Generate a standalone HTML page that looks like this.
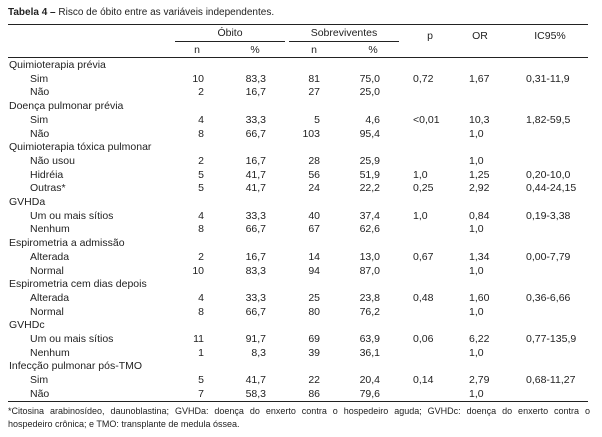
<!DOCTYPE html>
<html><head><meta charset="utf-8"><style>
html,body{margin:0;padding:0;background:#fff;}
body{width:602px;height:437px;position:relative;overflow:hidden;font-family:"Liberation Sans",sans-serif;color:#222;font-size:10.5px;}
.t{position:absolute;white-space:nowrap;line-height:12px;}
.r{text-align:right;}
.c{text-align:center;}
.hl{position:absolute;height:1px;background:#222;}
</style></head><body>
<div class="t" style="left:8px;top:7px;font-size:10px;"><b>Tabela 4 –</b> Risco de óbito entre as variáveis independentes.</div>
<div class="hl" style="left:8px;width:580px;top:24px;"></div>
<div class="t c" style="left:175px;width:110px;top:27px;">Óbito</div>
<div class="t c" style="left:289px;width:110px;top:27px;">Sobreviventes</div>
<div class="t c" style="left:410px;width:40px;top:30px;">p</div>
<div class="t c" style="left:460px;width:40px;top:30px;">OR</div>
<div class="t c" style="left:525px;width:50px;top:30px;">IC95%</div>
<div class="hl" style="left:175px;width:110px;top:41px;"></div>
<div class="hl" style="left:289px;width:110px;top:41px;"></div>
<div class="t c" style="left:185px;width:24px;top:44px;">n</div>
<div class="t c" style="left:242px;width:26px;top:44px;">%</div>
<div class="t c" style="left:302px;width:24px;top:44px;">n</div>
<div class="t c" style="left:360px;width:26px;top:44px;">%</div>
<div class="hl" style="left:8px;width:580px;top:57px;"></div>
<div id="rows"></div>
<div class="hl" style="left:8px;width:580px;top:401px;"></div>
<div class="t" style="left:8px;width:582px;top:405px;font-size:9px;text-align:justify;text-align-last:justify;">*Citosina arabinosídeo, daunoblastina; GVHDa: doença do enxerto contra o hospedeiro aguda; GVHDc: doença do enxerto contra o</div>
<div class="t" style="left:8px;top:418px;font-size:9px;">hospedeiro crônica; e TMO: transplante de medula óssea.</div>
<script>
var d=[
["Quimioterapia prévia",0],
["Sim",1,"10","83,3","81","75,0","0,72","1,67","0,31-11,9"],
["Não",1,"2","16,7","27","25,0","","",""],
["Doença pulmonar prévia",0],
["Sim",1,"4","33,3","5","4,6","<0,01","10,3","1,82-59,5"],
["Não",1,"8","66,7","103","95,4","","1,0",""],
["Quimioterapia tóxica pulmonar",0],
["Não usou",1,"2","16,7","28","25,9","","1,0",""],
["Hidréia",1,"5","41,7","56","51,9","1,0","1,25","0,20-10,0"],
["Outras*",1,"5","41,7","24","22,2","0,25","2,92","0,44-24,15"],
["GVHDa",0],
["Um ou mais sítios",1,"4","33,3","40","37,4","1,0","0,84","0,19-3,38"],
["Nenhum",1,"8","66,7","67","62,6","","1,0",""],
["Espirometria a admissão",0],
["Alterada",1,"2","16,7","14","13,0","0,67","1,34","0,00-7,79"],
["Normal",1,"10","83,3","94","87,0","","1,0",""],
["Espirometria cem dias depois",0],
["Alterada",1,"4","33,3","25","23,8","0,48","1,60","0,36-6,66"],
["Normal",1,"8","66,7","80","76,2","","1,0",""],
["GVHDc",0],
["Um ou mais sítios",1,"11","91,7","69","63,9","0,06","6,22","0,77-135,9"],
["Nenhum",1,"1","8,3","39","36,1","","1,0",""],
["Infecção pulmonar pós-TMO",0],
["Sim",1,"5","41,7","22","20,4","0,14","2,79","0,68-11,27"],
["Não",1,"7","58,3","86","79,6","","1,0",""]];
var h="";
for(var i=0;i<d.length;i++){var r=d[i],y=(65+13.7*i-6).toFixed(1);
h+='<div class="t" style="left:'+(r[1]?30:9)+'px;top:'+y+'px">'+r[0]+'</div>';
if(r[1]){
h+='<div class="t r" style="left:160px;width:44px;top:'+y+'px">'+r[2]+'</div>';
h+='<div class="t r" style="left:222px;width:44px;top:'+y+'px">'+r[3]+'</div>';
h+='<div class="t r" style="left:274px;width:46px;top:'+y+'px">'+r[4]+'</div>';
h+='<div class="t r" style="left:334px;width:46px;top:'+y+'px">'+r[5]+'</div>';
h+='<div class="t" style="left:413px;top:'+y+'px">'+r[6].replace("<","&lt;")+'</div>';
h+='<div class="t" style="left:469px;top:'+y+'px">'+r[7]+'</div>';
h+='<div class="t" style="left:526px;top:'+y+'px">'+r[8]+'</div>';}}
document.getElementById("rows").innerHTML=h;
</script>
</body></html>
